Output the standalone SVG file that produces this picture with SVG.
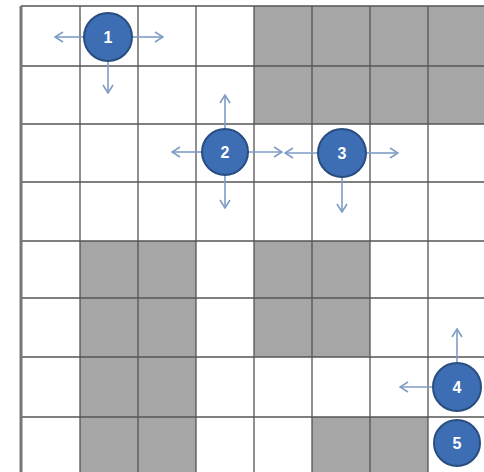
<svg xmlns="http://www.w3.org/2000/svg" width="484" height="472" viewBox="0 0 484 472">
<style>
.cell{fill:#a6a6a6}
.grid{stroke:#555;stroke-width:1.3;fill:none}
.border{stroke:#777;stroke-width:3;fill:none}
.arrow{stroke:#7f9cc5;stroke-width:1.6;fill:none;marker-end:url(#ah)}
.node circle{fill:#3d6eb4;stroke:#2a4d80;stroke-width:2}
.node text{fill:#fff;font-family:"Liberation Sans",Arial,sans-serif;font-weight:bold;font-size:16px;text-anchor:middle;dominant-baseline:central}
</style>
<defs>
<marker id="ah" viewBox="0 0 10 12" refX="9" refY="6" markerWidth="10" markerHeight="12" markerUnits="userSpaceOnUse" orient="auto">
<path d="M1,1 L9,6 L1,11" fill="none" stroke="#7f9cc5" stroke-width="1.6"/>
</marker>
</defs>
<rect width="484" height="472" fill="#fff"/>
<g id="cells">
<rect class="cell" x="254" y="6" width="232" height="118"/>
<rect class="cell" x="80" y="241" width="116" height="234"/>
<rect class="cell" x="254" y="241" width="116" height="116"/>
<rect class="cell" x="312" y="417" width="116" height="58"/>
</g>
<g id="grid" class="grid">
<path d="M80,6V472 M138,6V472 M196,6V472 M254,6V472 M312,6V472 M370,6V472 M428,6V472"/>
<path d="M21,6H484 M21,66H484 M21,124H484 M21,182H484 M21,241H484 M21,298H484 M21,357H484 M21,417H484"/>
</g>
<path class="border" d="M21,472V6"/>
<g id="connectors">
<line class="arrow" x1="85" y1="37" x2="55" y2="37"/>
<line class="arrow" x1="132" y1="37" x2="163" y2="37"/>
<line class="arrow" x1="108" y1="61" x2="108" y2="93"/>
<line class="arrow" x1="225" y1="129" x2="225" y2="95"/>
<line class="arrow" x1="202" y1="152" x2="172" y2="152"/>
<line class="arrow" x1="225" y1="175" x2="225" y2="208"/>
<line class="arrow" x1="248" y1="152" x2="282" y2="152"/>
<line class="arrow" x1="319" y1="153" x2="285" y2="153"/>
<line class="arrow" x1="366" y1="153" x2="398" y2="153"/>
<line class="arrow" x1="342" y1="177" x2="342" y2="212"/>
<line class="arrow" x1="457" y1="363" x2="457" y2="329"/>
<line class="arrow" x1="433" y1="387" x2="400" y2="387"/>
</g>
<g id="node1" class="node"><circle cx="108" cy="37" r="24"/><text x="108" y="37">1</text></g>
<g id="node2" class="node"><circle cx="225" cy="152" r="23"/><text x="225" y="152">2</text></g>
<g id="node3" class="node"><circle cx="342" cy="153" r="24"/><text x="342" y="153">3</text></g>
<g id="node4" class="node"><circle cx="457" cy="387" r="24"/><text x="457" y="387">4</text></g>
<g id="node5" class="node"><circle cx="457" cy="443" r="23"/><text x="457" y="443">5</text></g>
</svg>
